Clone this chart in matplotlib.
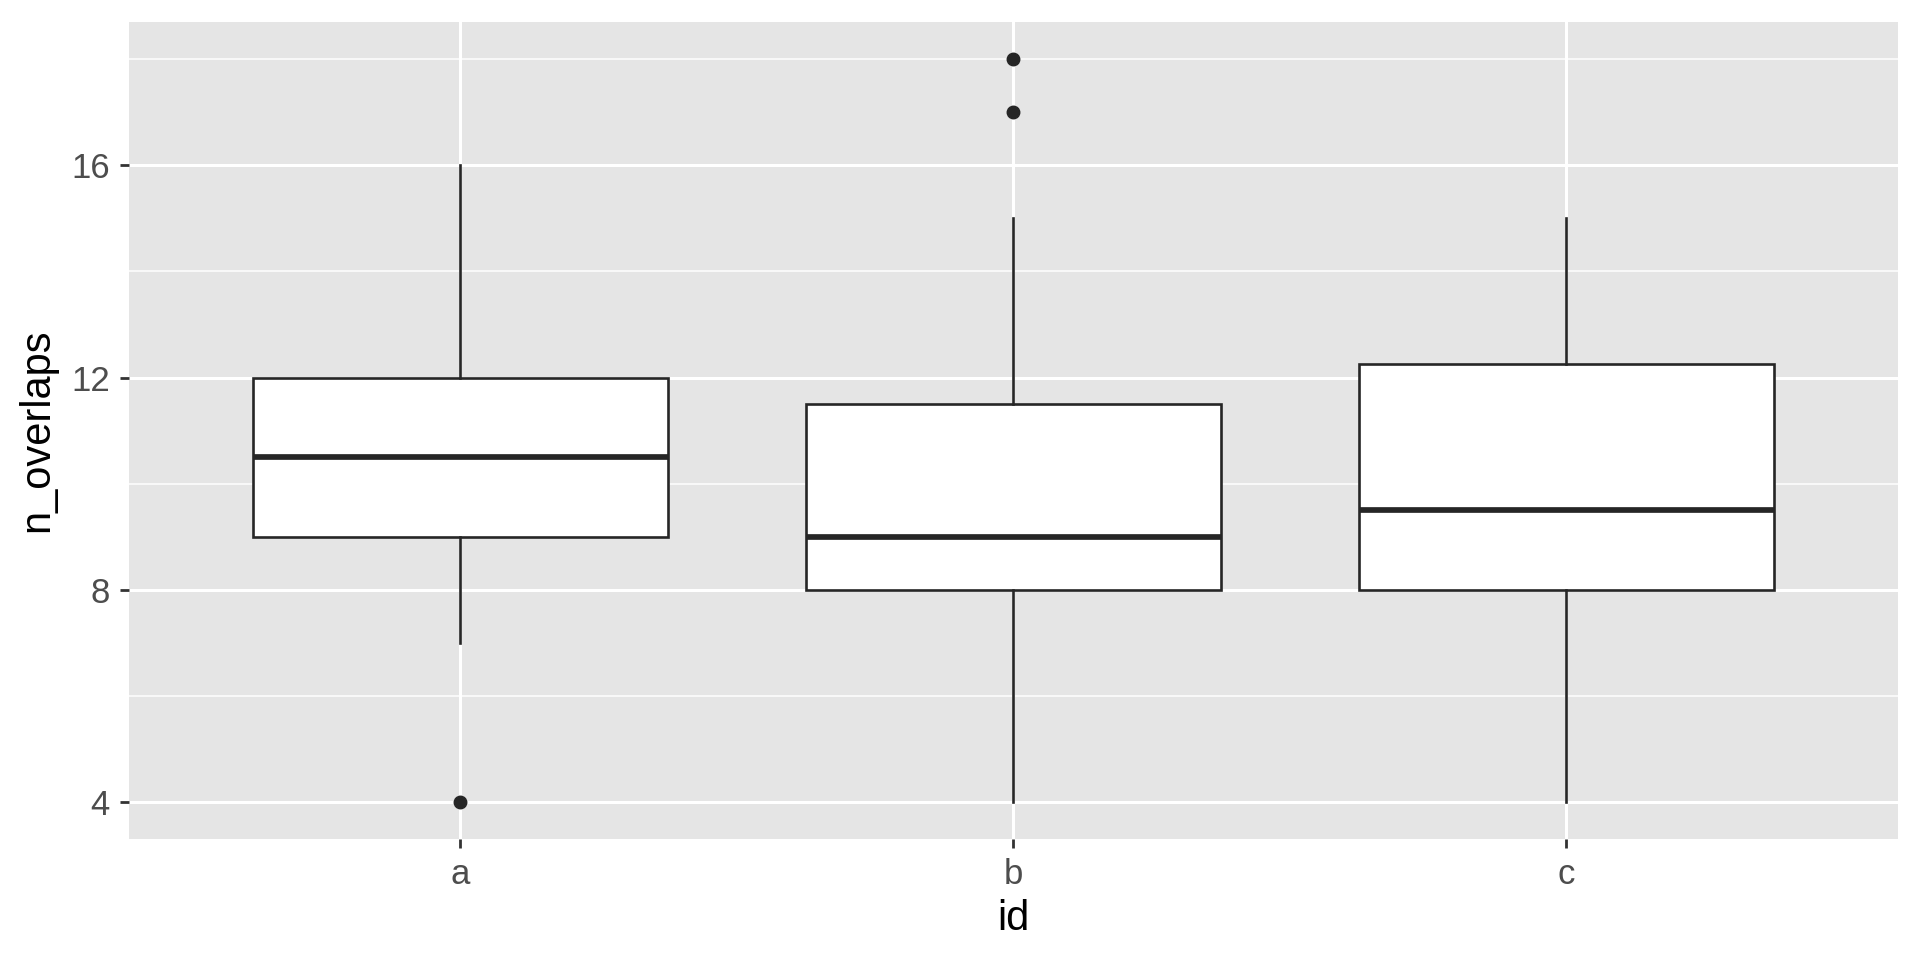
import matplotlib.pyplot as plt
from matplotlib.ticker import MultipleLocator

# boxplot summary per group
ids = ['a', 'b', 'c']
q1 = [9, 8, 8]
med = [10.5, 9, 9.5]
q3 = [12, 11.5, 12.25]
whislo = [7, 4, 4]
whishi = [16, 15, 15]
fliers = [[4], [17, 18], []]

plt.rcParams['font.family'] = ['Liberation Sans', 'DejaVu Sans']

stats = []
for i in range(len(ids)):
    stats.append({'label': ids[i], 'q1': q1[i], 'med': med[i], 'q3': q3[i],
                  'whislo': whislo[i], 'whishi': whishi[i], 'fliers': fliers[i]})

line_col = '#262626'

fig = plt.figure(figsize=(19.2, 9.6), dpi=100)
ax = fig.add_axes([0.067, 0.126, 0.9215, 0.851])
ax.set_facecolor('#E5E5E5')

ax.bxp(stats, positions=[1, 2, 3], widths=0.75, patch_artist=True, showcaps=False,
       boxprops=dict(facecolor='white', edgecolor=line_col, linewidth=1.9),
       whiskerprops=dict(color=line_col, linewidth=1.9),
       medianprops=dict(color=line_col, linewidth=4.1, solid_capstyle='butt'),
       flierprops=dict(marker='o', markersize=9, markerfacecolor=line_col,
                       markeredgecolor=line_col),
       zorder=3)

ax.set_xlim(0.4, 3.6)
ax.set_ylim(3.3, 18.7)
ax.yaxis.set_major_locator(MultipleLocator(4))
ax.yaxis.set_minor_locator(MultipleLocator(2))
ax.set_xticks([1, 2, 3])
ax.set_xticklabels(ids)

ax.grid(which='major', color='white', linewidth=2.2, zorder=0)
ax.grid(which='minor', axis='y', color='white', linewidth=1.1, zorder=0)
ax.set_axisbelow(True)
for s in ax.spines.values():
    s.set_visible(False)

ax.tick_params(which='major', length=6.5, width=2, color='#333333',
               labelsize=25, labelcolor='#4D4D4D', pad=7)
ax.tick_params(which='minor', length=0)

ax.set_xlabel('id', fontsize=30, labelpad=6)
ax.set_ylabel('n_overlaps', fontsize=30, labelpad=10)

fig.savefig('out.png', dpi=100)
